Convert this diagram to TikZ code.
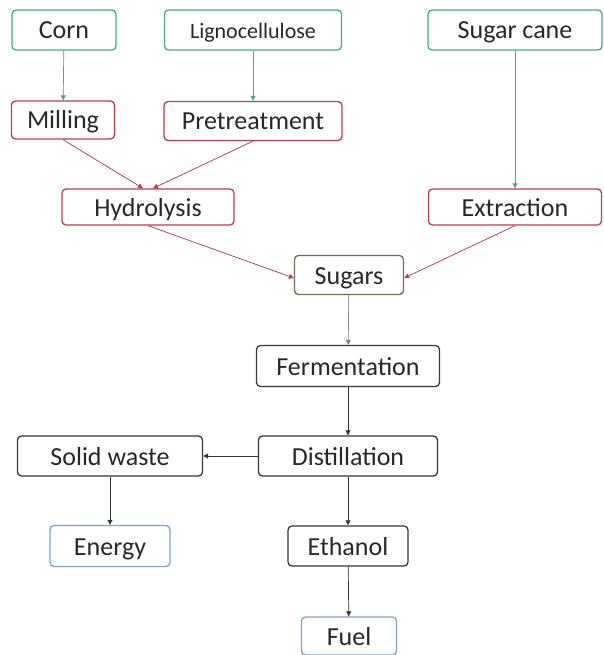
\documentclass[tikz,border=0pt]{standalone}
\usepackage{fontspec}
\setmainfont{Carlito}
\usetikzlibrary{arrows.meta}
\definecolor{srcgreen}{RGB}{70,170,130}
\definecolor{procred}{RGB}{190,60,75}
\definecolor{sugarolive}{RGB}{110,110,90}
\definecolor{outblue}{RGB}{130,160,210}
\definecolor{stepdark}{RGB}{55,55,55}
\definecolor{textdark}{RGB}{40,40,40}
\tikzset{
  box/.style={draw, line width=1.3pt, rounded corners=4pt, fill=white,
    inner sep=0pt, text=textdark, text height=18pt, text depth=0pt,
    font=\fontsize{26}{30}\selectfont},
  srcbox/.style={box, draw=srcgreen},
  procbox/.style={box, draw=procred},
  sugarbox/.style={box, draw=sugarolive},
  darkbox/.style={box, draw=stepdark},
  outbox/.style={box, draw=outblue},
  link/.style={line width=0.7pt, -{Triangle[length=5pt,width=5pt]}},
  greenlink/.style={link, draw=srcgreen, fill=srcgreen},
  redlink/.style={link, draw=procred, fill=procred},
  greylink/.style={link, draw=gray, fill=gray},
  blacklink/.style={link, draw=stepdark, fill=stepdark},
}
\begin{document}
\begin{tikzpicture}[x=1pt, y=-1pt]
\useasboundingbox (0,0) rectangle (603,655);
% feedstocks
\node[srcbox, minimum width=104pt, minimum height=40pt] (corn) at (64,30) {Corn};
\node[srcbox, minimum width=177pt, minimum height=40pt, font=\fontsize{22}{26}\selectfont] (ligno) at (253,30) {Lignocellulose};
\node[srcbox, minimum width=174pt, minimum height=40pt] (cane) at (515,30) {Sugar cane};
% preparation
\node[procbox, minimum width=103pt, minimum height=38pt] (mill) at (63,120) {Milling};
\node[procbox, minimum width=178pt, minimum height=39pt] (pre) at (253,121) {Pretreatment};
\node[procbox, minimum width=172pt, minimum height=36pt] (hyd) at (148,207) {Hydrolysis};
\node[procbox, minimum width=173pt, minimum height=36pt] (ext) at (515,207) {Extraction};
% conversion
\node[sugarbox, minimum width=109pt, minimum height=39pt] (sug) at (349,275) {Sugars};
\node[darkbox, minimum width=183pt, minimum height=41pt] (fer) at (348,366) {Fermentation};
\node[darkbox, minimum width=179pt, minimum height=40pt] (dis) at (348,456) {Distillation};
\node[darkbox, minimum width=185pt, minimum height=40pt] (sol) at (110,456) {Solid waste};
\node[outbox, minimum width=120pt, minimum height=41pt] (ene) at (110,546) {Energy};
\node[darkbox, minimum width=120pt, minimum height=40pt] (eth) at (348,546) {Ethanol};
\node[outbox, minimum width=95pt, minimum height=38pt] (fuel) at (349,636) {Fuel};
% connectors
\draw[greenlink] (corn) -- (mill);
\draw[greenlink] (ligno) -- (pre);
\draw[greenlink] (cane.south) -- (ext.north);
\draw[redlink] (mill.south) -- ([xshift=-5pt]hyd.north);
\draw[redlink] (pre.south) -- ([xshift=5pt]hyd.north);
\draw[redlink] (hyd.south) -- ([yshift=-3pt]sug.west);
\draw[redlink] (ext.south) -- ([yshift=-3pt]sug.east);
\draw[greylink] (sug) -- (fer);
\draw[blacklink] (fer) -- (dis);
\draw[blacklink] (dis) -- (sol);
\draw[blacklink] (sol) -- (ene);
\draw[blacklink] (dis) -- (eth);
\draw[blacklink] (eth) -- (fuel);
\end{tikzpicture}
\end{document}
